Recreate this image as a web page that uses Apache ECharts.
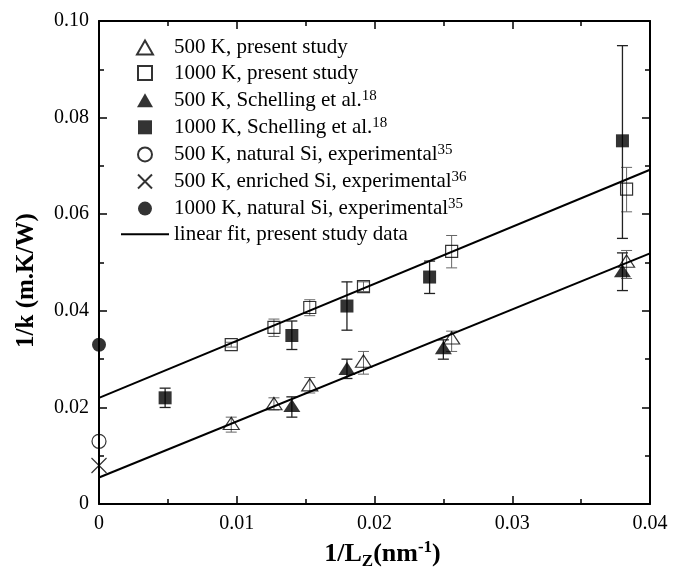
<!DOCTYPE html>
<html>
<head>
<meta charset="utf-8">
<script src="https://cdn.jsdelivr.net/npm/echarts@6/dist/echarts.min.js"></script>
<style>
  html, body { margin: 0; padding: 0; background: #fff; }
  #chart { width: 683px; height: 575px; }
</style>
</head>
<body>
<div id="chart"></div>
<script>
// 数据
const xPresent = [0.0096, 0.0127, 0.0153, 0.0192, 0.0256, 0.0383];
const tri500 = [0.0167, 0.0208, 0.0247, 0.0296, 0.0344, 0.0503];
const tri500Low = [0.0149, 0.0195, 0.0230, 0.0269, 0.0316, 0.0467];
const tri500High = [0.0180, 0.0220, 0.0262, 0.0316, 0.0358, 0.0525];
const sq1000 = [0.0330, 0.0366, 0.0407, 0.0450, 0.0523, 0.0652];
const sq1000Low = [0.0325, 0.0347, 0.0390, 0.0440, 0.0489, 0.0605];
const sq1000High = [0.0335, 0.0383, 0.0423, 0.0460, 0.0556, 0.0697];

const xSch1000 = [0.0048, 0.0140, 0.0180, 0.0240, 0.0380];
const sch1000 = [0.0220, 0.0349, 0.0410, 0.0470, 0.0752];
const sch1000Low = [0.0200, 0.0320, 0.0360, 0.0436, 0.0550];
const sch1000High = [0.0240, 0.0379, 0.0460, 0.0503, 0.0949];

const xSch500 = [0.0140, 0.0180, 0.0250, 0.0380];
const sch500 = [0.0204, 0.0281, 0.0324, 0.0483];
const sch500Low = [0.0180, 0.0260, 0.0300, 0.0442];
const sch500High = [0.0222, 0.0300, 0.0340, 0.0520];

const expNat500 = [[0, 0.013]];
const expEnr500 = [[0, 0.008]];
const expNat1000 = [[0, 0.033]];

const fitX = [0, 0.04];
const fit500 = [0.0055, 0.0519];
const fit1000 = [0.022, 0.0692];

const names = [
  '500 K, present study',
  '1000 K, present study',
  '500 K, Schelling et al.',
  '1000 K, Schelling et al.',
  '500 K, natural Si, experimental',
  '500 K, enriched Si, experimental',
  '1000 K, natural Si, experimental',
  'linear fit, present study data'
];
const sups = {
  '500 K, Schelling et al.': '18',
  '1000 K, Schelling et al.': '18',
  '500 K, natural Si, experimental': '35',
  '500 K, enriched Si, experimental': '36',
  '1000 K, natural Si, experimental': '35'
};

const FONT = "'Liberation Serif', 'Times New Roman', serif";
const TRI = 'path://M8,0L16,14L0,14Z';
const SQ = 'path://M0,0L10,0L10,10L0,10Z';
const CROSS = 'path://M0,0L10,10M10,0L0,10';

const pairs = (xs, ys) => xs.map((x, i) => [x, ys[i]]);
const bars = (xs, lo, hi) => xs.map((x, i) => [x, lo[i], hi[i]]);

function errorBar(color, width) {
  return function (params, api) {
    const top = api.coord([api.value(0), api.value(2)]);
    const bot = api.coord([api.value(0), api.value(1)]);
    const cap = 5.5;
    const style = { stroke: color, lineWidth: width };
    return {
      type: 'group',
      children: [
        { type: 'line', shape: { x1: top[0], y1: top[1], x2: bot[0], y2: bot[1] }, style },
        { type: 'line', shape: { x1: top[0] - cap, y1: top[1], x2: top[0] + cap, y2: top[1] }, style },
        { type: 'line', shape: { x1: bot[0] - cap, y1: bot[1], x2: bot[0] + cap, y2: bot[1] }, style }
      ]
    };
  };
}

function errSeries(data, color, width) {
  return {
    type: 'custom',
    renderItem: errorBar(color, width),
    data: data,
    encode: { x: 0, y: [1, 2] },
    z: 1,
    silent: true
  };
}

const openStyle = { color: 'rgba(0,0,0,0)', borderColor: '#000', borderWidth: 1.2 };
const fillStyle = { color: '#000', borderColor: '#000', borderWidth: 0 };

const axisTickFmt = v => (Math.abs(v) < 1e-9 ? '0' : v.toFixed(2));

function axisBase(extra) {
  return Object.assign({
    type: 'value',
    axisLine: { show: true, onZero: false, lineStyle: { color: '#000', width: 2 } },
    axisTick: { show: true, inside: true, length: 8, lineStyle: { color: '#000', width: 1.5 } },
    minorTick: { show: true, splitNumber: 2, length: 5, lineStyle: { color: '#000', width: 1.5 } },
    splitLine: { show: false },
    axisLabel: { color: '#000', fontFamily: FONT, fontSize: 20, margin: 10, formatter: axisTickFmt }
  }, extra);
}

const chart = echarts.init(document.getElementById('chart'));

chart.setOption({
  backgroundColor: '#fff',
  animation: false,
  textStyle: { fontFamily: FONT },
  grid: { left: 99, right: 33, top: 21, bottom: 63 },
  legend: {
    data: names,
    orient: 'vertical',
    left: 115,
    top: 32,
    itemWidth: 48,
    itemHeight: 14,
    itemGap: 4.6,
    symbolKeepAspect: true,
    selectedMode: false,
    formatter: name => '{a|' + name + '}' + (sups[name] ? '{s|' + sups[name] + '}' : ''),
    textStyle: {
      fontFamily: FONT,
      color: '#000',
      rich: {
        a: { fontFamily: FONT, fontSize: 21, lineHeight: 24, verticalAlign: 'middle', color: '#000' },
        s: { fontFamily: FONT, fontSize: 15, lineHeight: 10, verticalAlign: 'top', color: '#000' }
      }
    }
  },
  xAxis: [
    axisBase({
      min: 0, max: 0.04, interval: 0.01,
      name: '{b|1/L}{sub|Z}{b|(nm}{sup|-1}{b|)}',
      nameLocation: 'middle',
      nameGap: 32,
      nameTextStyle: {
        padding: [0, 0, 0, 16],
        rich: {
          b: { fontFamily: FONT, fontSize: 26, fontWeight: 'bold', lineHeight: 31, color: '#000' },
          sub: { fontFamily: FONT, fontSize: 17, fontWeight: 'bold', lineHeight: 14, verticalAlign: 'bottom', color: '#000' },
          sup: { fontFamily: FONT, fontSize: 17, fontWeight: 'bold', lineHeight: 12, verticalAlign: 'top', color: '#000' }
        }
      }
    }),
    axisBase({ position: 'top', min: 0, max: 0.04, interval: 0.01, axisLabel: { show: false } })
  ],
  yAxis: [
    axisBase({
      min: 0, max: 0.10, interval: 0.02,
      name: '1/k (m.K/W)',
      nameLocation: 'middle',
      nameGap: 60,
      nameTextStyle: { fontFamily: FONT, fontSize: 25, fontWeight: 'bold', color: '#000', padding: [0, 36, 0, 0] }
    }),
    axisBase({ position: 'right', min: 0, max: 0.10, interval: 0.02, axisLabel: { show: false } })
  ],
  series: [
    // 误差棒
    errSeries(bars(xPresent, tri500Low, tri500High), '#666', 1),
    errSeries(bars(xPresent, sq1000Low, sq1000High), '#666', 1),
    errSeries(bars(xSch500, sch500Low, sch500High), '#222', 1.3),
    errSeries(bars(xSch1000, sch1000Low, sch1000High), '#222', 1.3),
    {
      name: names[7], type: 'line', data: pairs(fitX, fit500),
      symbol: 'none', itemStyle: { color: 'rgba(0,0,0,0)' },
      lineStyle: { color: '#000', width: 2 }, z: 2
    },
    {
      name: names[7], type: 'line', data: pairs(fitX, fit1000),
      symbol: 'none', itemStyle: { color: 'rgba(0,0,0,0)' },
      lineStyle: { color: '#000', width: 2 }, z: 2
    },
    {
      name: names[0], type: 'scatter', data: pairs(xPresent, tri500),
      symbol: TRI, symbolSize: [16, 14], symbolKeepAspect: true, itemStyle: openStyle, z: 3
    },
    {
      name: names[1], type: 'scatter', data: pairs(xPresent, sq1000),
      symbol: SQ, symbolSize: 12, symbolKeepAspect: true, itemStyle: openStyle, z: 3
    },
    {
      name: names[2], type: 'scatter', data: pairs(xSch500, sch500),
      symbol: TRI, symbolSize: [17, 15], symbolKeepAspect: true, itemStyle: fillStyle, z: 3
    },
    {
      name: names[3], type: 'scatter', data: pairs(xSch1000, sch1000),
      symbol: SQ, symbolSize: 13, symbolKeepAspect: true, itemStyle: fillStyle, z: 3
    },
    {
      name: names[4], type: 'scatter', data: expNat500, clip: false,
      symbol: 'circle', symbolSize: 14, itemStyle: openStyle, z: 3
    },
    {
      name: names[5], type: 'scatter', data: expEnr500, clip: false,
      symbol: CROSS, symbolSize: 15, symbolKeepAspect: true,
      itemStyle: { color: 'rgba(0,0,0,0)', borderColor: '#000', borderWidth: 1.2 }, z: 3
    },
    {
      name: names[6], type: 'scatter', data: expNat1000, clip: false,
      symbol: 'circle', symbolSize: 14, itemStyle: fillStyle, z: 3
    }
  ]
});
</script>
</body>
</html>
